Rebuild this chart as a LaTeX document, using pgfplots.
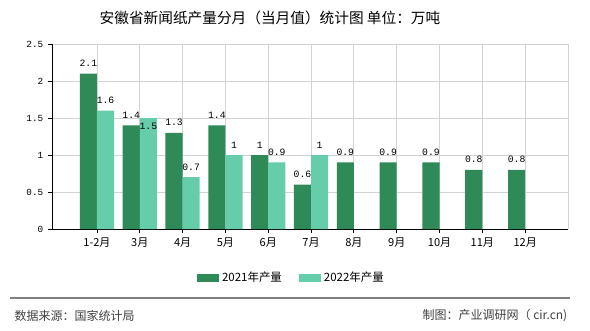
\documentclass[border=0pt]{standalone}
\usepackage{fontspec}
\usepackage{pgfplots}
\pgfplotsset{compat=1.18}
\setmainfont{Noto Sans CJK SC}
\newfontfamily\mono{Liberation Mono}
\definecolor{c21}{HTML}{2E8B57}
\definecolor{c22}{HTML}{66CDAA}
\definecolor{gridc}{HTML}{D3D3D3}
\begin{document}
\begin{tikzpicture}
\useasboundingbox (0,0) rectangle (442.5pt,247.5pt);
\node[font=\fontsize{11}{13}\selectfont] at (202.5pt,234pt) {安徽省新闻纸产量分月（当月值）统计图 单位：万吨};
\begin{axis}[at={(39pt,75.75pt)}, anchor=south west, scale only axis,
  width=387pt, height=138.75pt,
  /pgf/number format/assume math mode=true,
  ymin=0, ymax=2.5, ytick={0,0.5,1,1.5,2,2.5},
  yticklabels={0,0.5,1,1.5,2,2.5},
  xmin=-1.05, xmax=11, xtick={0,...,10},
  xticklabels={1-2月,3月,4月,5月,6月,7月,8月,9月,10月,11月,12月},
  axis x line*=bottom, axis y line*=left,
  axis line style={black, line width=0.6pt, -},
  xmajorgrids, ymajorgrids, grid style={gridc, line width=0.6pt},
  tick align=outside, major tick length=3pt,
  tick style={black, line width=0.6pt},
  xticklabel style={font=\fontsize{8.3}{10}\selectfont},
  yticklabel style={font=\mono\fontsize{7}{9}\selectfont},
  ybar=0pt, bar width=0.4,
  nodes near coords={\mono\pgfmathprintnumber{\pgfplotspointmeta}},
  every node near coord/.append style={font=\mono\fontsize{7.3}{9}\selectfont, black},
  legend style={at={(0.465,-0.265)}, anchor=center, draw=none, fill=none,
    legend columns=2, font=\fontsize{8.6}{10}\selectfont,
    /tikz/every even column/.append style={column sep=11pt}},
  legend image code/.code={\fill[#1] (0pt,-3pt) rectangle (16.5pt,3pt);},
  clip=false,
]
\addplot[fill=c21, draw=none, every node near coord/.append style={yshift=1.5pt}] table[x=x,y=y] {
x y
0 2.1
1 1.4
2 1.3
3 1.4
4 1
5 0.6
6 0.9
7 0.9
8 0.9
9 0.8
10 0.8
};
\addlegendentry{2021年产量}
\addplot[fill=c22, draw=none,
  visualization depends on={\thisrow{dy}\as\dy},
  every node near coord/.append style={yshift=\dy pt}] table[x=x,y=y] {
x y dy
0 1.6 1.5
1 1.5 -12
2 0.7 1.5
3 1 1.5
4 0.9 1.5
5 1 1.5
};
\addlegendentry{2022年产量}
\draw[gridc, line width=0.6pt] (rel axis cs:1,0) -- (rel axis cs:1,1);
\end{axis}
\draw[gray, line width=0.8pt] (7.5pt,24pt) -- (427.5pt,24pt);
\node[anchor=west, font=\fontsize{9}{11}\selectfont, text=black!75] at (7.5pt,10.5pt) {数据来源：国家统计局};
\node[anchor=east, font=\fontsize{9}{11}\selectfont, text=black!75] at (429pt,10.5pt) {制图：产业调研网（ cir.cn)};
\end{tikzpicture}
\end{document}
